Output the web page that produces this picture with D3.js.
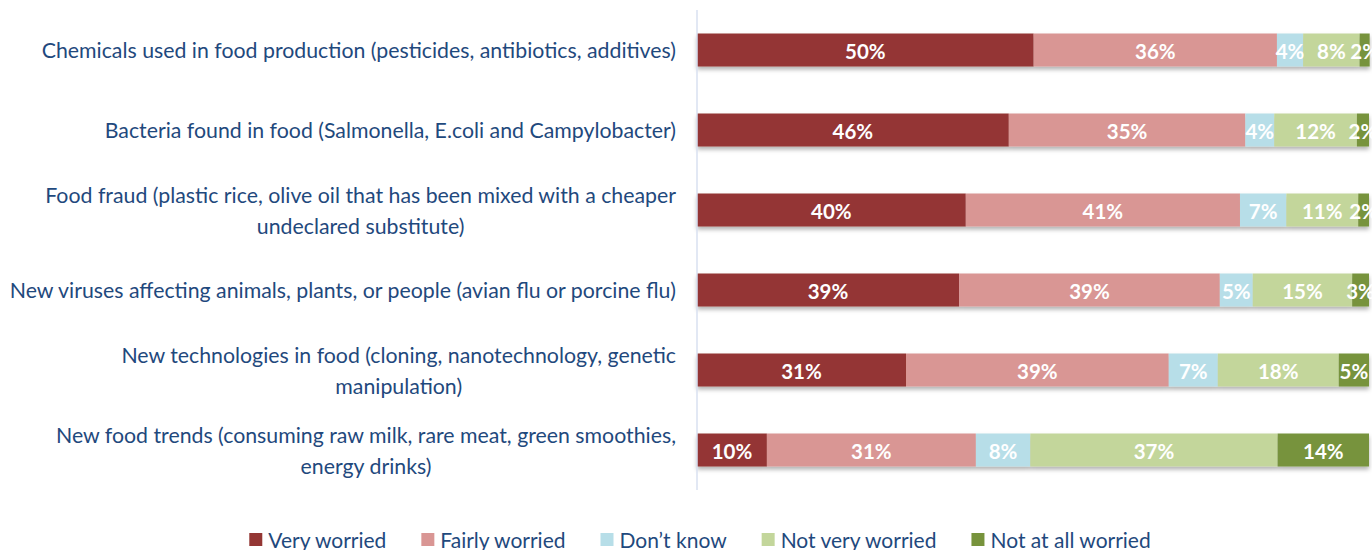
<!DOCTYPE html>
<html>
<head>
<meta charset="UTF-8"/>
<script src="https://d3js.org/d3.v7.min.js"></script>
<style>
  body { margin: 0; background: #fff; }
  svg { display: block; font-family: Lato, "Open Sans", sans-serif; }
  .cat text { fill: #1F497D; font-size: 21.3px; }
  .lbl { fill: #fff; font-size: 20.5px; font-weight: bold; }
  .legend text { fill: #1F497D; font-size: 21px; }
</style>
</head>
<body>
<script>
  var categories = [
    "Chemicals used in food production (pesticides, antibiotics, additives)",
    "Bacteria found in food (Salmonella, E.coli and Campylobacter)",
    "Food fraud (plastic rice, olive oil that has been mixed with a cheaper|undeclared substitute)",
    "New viruses affecting animals, plants, or people (avian flu or porcine flu)",
    "New technologies in food (cloning, nanotechnology, genetic|manipulation)",
    "New food trends (consuming raw milk, rare meat, green smoothies,|energy drinks)"
  ];
  var seriesNames = ["Very worried", "Fairly worried", "Don\u2019t know", "Not very worried", "Not at all worried"];
  var seriesColors = ["#943634", "#D99694", "#B7DEE8", "#C3D69B", "#77933C"];

  // shares; labels show them rounded
  var veryWorried   = [50.1, 46.4, 40.0, 39.0, 31.1, 10.4];
  var fairlyWorried = [36.2, 35.2, 40.8, 38.8, 39.1, 31.1];
  var dontKnow      = [3.9, 4.3, 6.9, 4.9, 7.3, 8.1];
  var notVery       = [8.4, 12.3, 10.7, 14.8, 18.0, 36.8];
  var notAtAll      = [1.5, 1.8, 1.6, 2.5, 4.5, 13.6];

  var width = 1372, height = 550;
  var x0 = 697;

  var rows = categories.map(function(c, i) {
    return { cat: c, "Very worried": veryWorried[i], "Fairly worried": fairlyWorried[i],
      "Don\u2019t know": dontKnow[i], "Not very worried": notVery[i], "Not at all worried": notAtAll[i] };
  });

  var stack = d3.stack().keys(seriesNames)(rows);

  var x = d3.scaleLinear().domain([0, 100]).range([x0, x0 + 672]);
  var y = d3.scaleBand().domain(categories).range([10, 490])
    .paddingInner(0.5875).paddingOuter(0.29375);
  var color = d3.scaleOrdinal().domain(seriesNames).range(seriesColors);

  var svg = d3.select("body").append("svg")
    .attr("width", width).attr("height", height);

  var defs = svg.append("defs");
  var f = defs.append("filter").attr("id", "shadow")
    .attr("x", "-5%").attr("y", "-20%").attr("width", "110%").attr("height", "160%");
  f.append("feDropShadow").attr("dx", 0).attr("dy", 3).attr("stdDeviation", 2)
    .attr("flood-color", "#000").attr("flood-opacity", 0.3);

  // bars
  var barG = svg.append("g").attr("filter", "url(#shadow)");
  barG.selectAll("g.series")
    .data(stack)
    .enter().append("g")
    .attr("class", "series")
    .attr("fill", function(d) { return color(d.key); })
    .selectAll("rect")
    .data(function(d) { return d; })
    .enter().append("rect")
    .attr("x", function(d) { return x(d[0]); })
    .attr("y", function(d) { return y(d.data.cat); })
    .attr("width", function(d) { return x(d[1]) - x(d[0]); })
    .attr("height", y.bandwidth());

  // value labels
  stack.forEach(function(s) {
    svg.append("g").selectAll("text")
      .data(s)
      .enter().append("text")
      .attr("class", "lbl")
      .attr("x", function(d) { return (x(d[0]) + x(d[1])) / 2; })
      .attr("y", function(d) { return y(d.data.cat) + y.bandwidth() / 2 + 1; })
      .attr("text-anchor", "middle")
      .attr("dominant-baseline", "central")
      .text(function(d) { return Math.round(d[1] - d[0]) + "%"; });
  });

  // vertical axis line
  svg.append("line")
    .attr("x1", x0).attr("x2", x0)
    .attr("y1", 10).attr("y2", 490)
    .attr("stroke", "#D9E1F0").attr("stroke-width", 1.5);

  // category labels, wrapped lines centred inside a right-aligned block
  var catG = svg.append("g").attr("class", "cat");
  categories.forEach(function(c) {
    var lines = c.split("|");
    var cy = y(c) + y.bandwidth() / 2;
    var t = catG.append("text").attr("text-anchor", "middle");
    lines.forEach(function(l, j) {
      t.append("tspan")
        .attr("y", cy + (j - (lines.length - 1) / 2) * 31)
        .attr("dominant-baseline", "central")
        .text(l);
    });
    var w = d3.max(t.selectAll("tspan").nodes(), function(n) { return n.getComputedTextLength(); });
    t.selectAll("tspan").attr("x", 676 - w / 2);
  });

  // legend
  var lg = svg.append("g").attr("class", "legend");
  var lx = 0;
  seriesNames.forEach(function(s, i) {
    var it = lg.append("g").attr("transform", "translate(" + lx + ",0)");
    it.append("rect").attr("x", 0).attr("y", 533).attr("width", 13).attr("height", 13)
      .attr("fill", color(s));
    var tx = it.append("text").attr("x", 19).attr("y", 539)
      .attr("dominant-baseline", "central").text(s);
    lx += 19 + tx.node().getComputedTextLength() + 35;
  });
  lx -= 35;
  lg.attr("transform", "translate(" + (700 - lx / 2) + ",0)");
</script>
</body>
</html>
